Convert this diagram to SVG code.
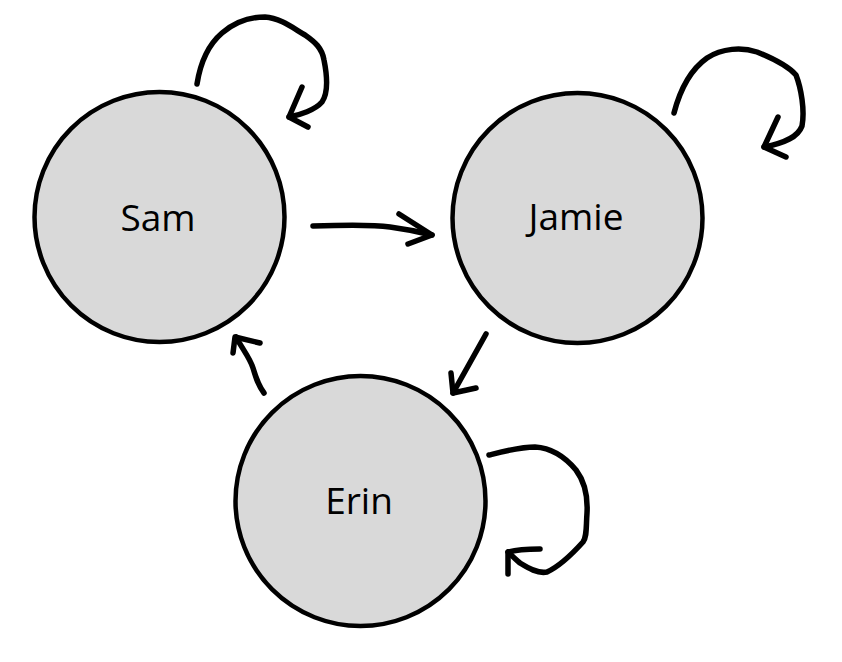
<svg xmlns="http://www.w3.org/2000/svg" width="842" height="662" viewBox="0 0 842 662">
<style>
.node circle{fill:#d9d9d9;stroke:#000;stroke-width:4.5}
.node text{font-family:"Open Sans","Noto Sans",sans-serif;font-size:37px;fill:#000;text-anchor:middle}
.edges path{fill:none;stroke:#000;stroke-width:5.5;stroke-linecap:round;stroke-linejoin:round}
</style>
<rect width="842" height="662" fill="#fff"/>
<g id="node-sam" class="node"><circle cx="159.5" cy="217" r="125"/><text x="158" y="231">Sam</text></g>
<g id="node-jamie" class="node"><circle cx="577.5" cy="218" r="125"/><text x="576" y="230">Jamie</text></g>
<g id="node-erin" class="node"><circle cx="360.5" cy="501" r="125"/><text x="359" y="514">Erin</text></g>
<g id="edges" class="edges">
<path d="M197,84 C200,65 208,45 222,33 C235,22 250,17 265,17 C280,18 293,28 305,35 C315,42 322,48 324,60 C327,75 329,92 322,102 C315,110 300,115 289,117"/>
<path d="M302,87 L289,117 L308,127"/>
<path d="M674,113 C680,90 690,70 707,58 C722,48 742,47 757,52 C772,58 788,66 796,75 C801,88 805,110 802,126 C798,137 785,143 764,147"/>
<path d="M778,117 L764,147 L786,157"/>
<path d="M313,226 C340,225 370,224 390,227 C405,229 420,232 432,235"/>
<path d="M399,214 L432,235 L408,244"/>
<path d="M486,334 L453,393"/>
<path d="M451,373 L453,393 L476,388"/>
<path d="M264,393 C258,385 256,378 253,368 C250,358 243,350 236,337"/>
<path d="M233,353 L235,337 L260,343"/>
<path d="M489,455 C505,451 520,447 535,447 C552,448 566,458 576,470 C585,482 588,495 587,513 C586,527 587,537 583,542 C574,552 560,566 547,572 C538,574 528,568 520,563 C515,559 512,556 508,552"/>
<path d="M540,549 C528,549 515,550 508,552 L508,574"/>
</g>
</svg>
